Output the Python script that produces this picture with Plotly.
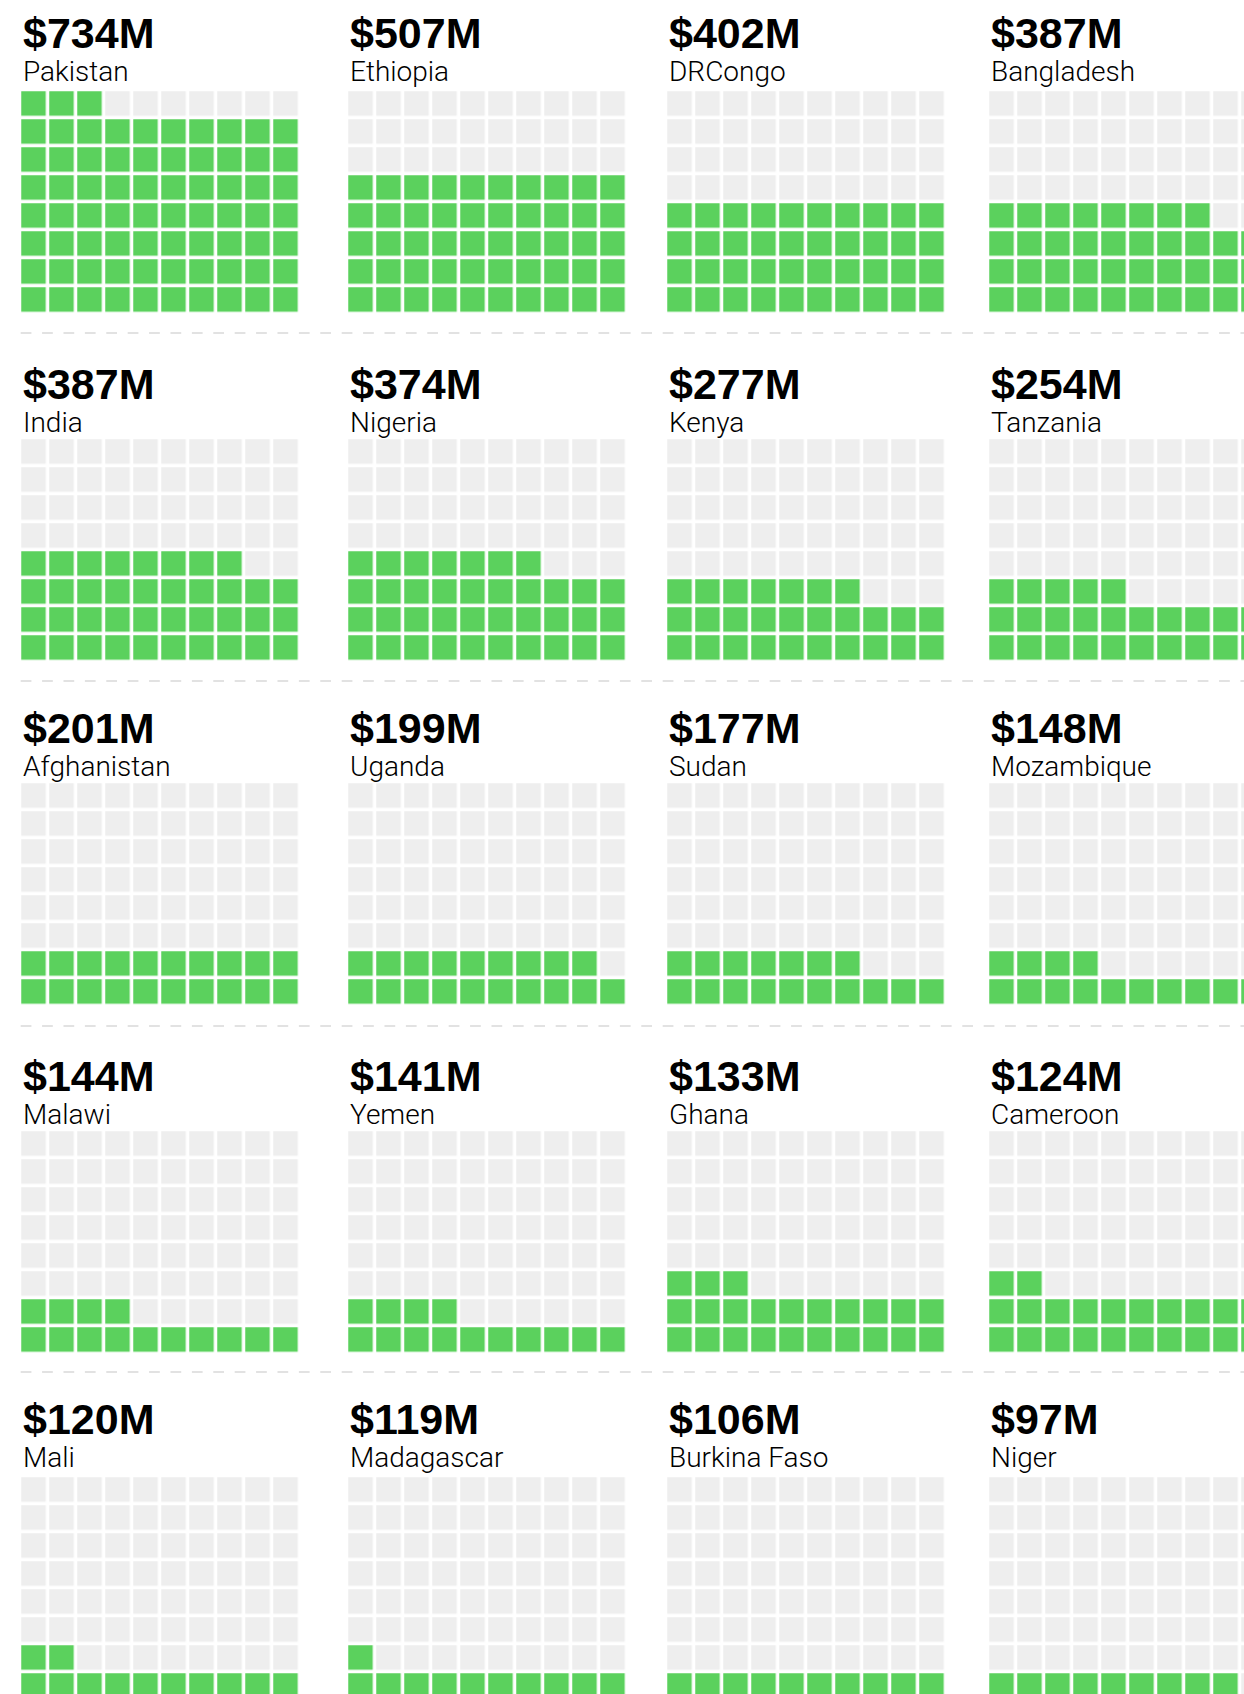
import plotly.graph_objects as go

# Funding per country, in millions of dollars
countries = ["Pakistan", "Ethiopia", "DRCongo", "Bangladesh",
             "India", "Nigeria", "Kenya", "Tanzania",
             "Afghanistan", "Uganda", "Sudan", "Mozambique",
             "Malawi", "Yemen", "Ghana", "Cameroon",
             "Mali", "Madagascar", "Burkina Faso", "Niger"]
amounts = [734, 507, 402, 387,
           387, 374, 277, 254,
           201, 199, 177, 148,
           144, 141, 133, 124,
           120, 119, 106, 97]
# Filled squares in each 10 x 8 waffle
squares = [73, 50, 40, 38,
           38, 37, 27, 25,
           20, 19, 17, 14,
           14, 14, 23, 22,
           12, 11, 10, 9]

# Layout constants (pixels)
W, H = 1244, 1694
N_COLS, N_ROWS = 10, 8
PITCH = 28.0
GAP = 3.5
COL_LEFT = [22, 349, 668, 990]
ROW_TOP = [92, 440, 784, 1132, 1478]
# baseline distance of the amount / country name above each waffle, per row
AMOUNT_OFFSET = [44, 41, 41, 41, 44]
NAME_OFFSET = [11, 8, 8, 8, 11]
SEP_Y = [333, 681, 1026, 1372]

GREEN = "#5bd15d"
GREY = "#eeeeee"

fig = go.Figure()

for k, (name, amt, n) in enumerate(zip(countries, amounts, squares)):
    r = k // 4
    left = COL_LEFT[k % 4]
    top = ROW_TOP[r]
    # cell centres; bricks are shrunk by GAP so the visible square starts at `left`
    xs = [left - GAP / 2 + PITCH * (i + 0.5) for i in range(N_COLS)]
    ys = [top - GAP / 2 + PITCH * (j + 0.5) for j in range(N_ROWS)]
    z = []
    for j in range(N_ROWS):
        row_from_bottom = N_ROWS - 1 - j
        z.append([1 if row_from_bottom * N_COLS + i < n else 0 for i in range(N_COLS)])
    fig.add_trace(go.Heatmap(
        x=xs, y=ys, z=z,
        zmin=0, zmax=1,
        colorscale=[[0, GREY], [1, GREEN]],
        showscale=False, xgap=GAP, ygap=GAP,
        hoverinfo="skip",
    ))
    fig.add_annotation(
        x=left - 1, y=top - AMOUNT_OFFSET[r] - 0.3465 * 43, xref="x", yref="y",
        text=f"<b>${amt}M</b>", showarrow=False,
        xanchor="left", yanchor="middle",
        font=dict(family="Liberation Sans, Arial, sans-serif", size=43, color="#000000"),
    )
    fig.add_annotation(
        x=left - 1, y=top - NAME_OFFSET[r] - 0.3465 * 28, xref="x", yref="y",
        text=name, showarrow=False,
        xanchor="left", yanchor="middle",
        font=dict(family="Roboto, Liberation Sans, sans-serif", size=28,
                  color="#000000", weight=300),
    )

for y in SEP_Y:
    fig.add_shape(
        type="line", xref="x", yref="y",
        x0=20.7, x1=W, y0=y, y1=y,
        line=dict(color="#e2e2e2", width=2, dash="10.7px,10.7px"),
    )

fig.update_xaxes(range=[0, W], visible=False, fixedrange=True)
fig.update_yaxes(range=[H, 0], visible=False, fixedrange=True)
fig.update_layout(
    width=W, height=H,
    margin=dict(l=0, r=0, t=0, b=0),
    paper_bgcolor="white", plot_bgcolor="white",
    showlegend=False,
)

fig.write_html("out.html", config={"displayModeBar": False})
